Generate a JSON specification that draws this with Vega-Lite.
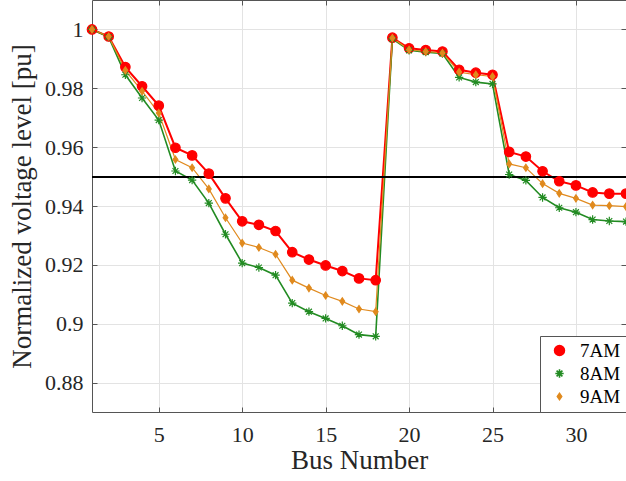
{
  "$schema": "https://vega.github.io/schema/vega-lite/v6.json",
  "width": 534,
  "height": 412,
  "autosize": {"type": "none"},
  "padding": {"left": 92, "top": 0, "right": 0, "bottom": 69},
  "background": "white",
  "config": {
    "view": {"stroke": null},
    "font": "Liberation Serif",
    "axis": {
      "labelFont": "Liberation Serif",
      "titleFont": "Liberation Serif",
      "labelFontSize": 22,
      "titleFontSize": 27,
      "titleFontWeight": "normal",
      "labelColor": "#262626",
      "titleColor": "#262626",
      "domainColor": "#555555",
      "tickColor": "#555555",
      "tickSize": -5,
      "gridColor": "#e3e3e3",
      "gridWidth": 1,
      "labelFlush": false,
      "labelOverlap": false
    },
    "legend": {"labelFont": "Liberation Serif"}
  },
  "datasets": {
    "v": [
      {"bus":1,"series":"7AM","v":1.0000},{"bus":2,"series":"7AM","v":0.9976},{"bus":3,"series":"7AM","v":0.9872},{"bus":4,"series":"7AM","v":0.9807},{"bus":5,"series":"7AM","v":0.9741},{"bus":6,"series":"7AM","v":0.9598},{"bus":7,"series":"7AM","v":0.9572},{"bus":8,"series":"7AM","v":0.9510},{"bus":9,"series":"7AM","v":0.9426},{"bus":10,"series":"7AM","v":0.9348},{"bus":11,"series":"7AM","v":0.9336},{"bus":12,"series":"7AM","v":0.9315},{"bus":13,"series":"7AM","v":0.9243},{"bus":14,"series":"7AM","v":0.9218},{"bus":15,"series":"7AM","v":0.9198},{"bus":16,"series":"7AM","v":0.9179},{"bus":17,"series":"7AM","v":0.9154},{"bus":18,"series":"7AM","v":0.9148},{"bus":19,"series":"7AM","v":0.9972},{"bus":20,"series":"7AM","v":0.9936},{"bus":21,"series":"7AM","v":0.9930},{"bus":22,"series":"7AM","v":0.9925},{"bus":23,"series":"7AM","v":0.9863},{"bus":24,"series":"7AM","v":0.9853},{"bus":25,"series":"7AM","v":0.9846},{"bus":26,"series":"7AM","v":0.9584},{"bus":27,"series":"7AM","v":0.9568},{"bus":28,"series":"7AM","v":0.9518},{"bus":29,"series":"7AM","v":0.9484},{"bus":30,"series":"7AM","v":0.9470},{"bus":31,"series":"7AM","v":0.9446},{"bus":32,"series":"7AM","v":0.9442},{"bus":33,"series":"7AM","v":0.9442},
      {"bus":1,"series":"8AM","v":1.0000},{"bus":2,"series":"8AM","v":0.9974},{"bus":3,"series":"8AM","v":0.9846},{"bus":4,"series":"8AM","v":0.9767},{"bus":5,"series":"8AM","v":0.9692},{"bus":6,"series":"8AM","v":0.9519},{"bus":7,"series":"8AM","v":0.9488},{"bus":8,"series":"8AM","v":0.9410},{"bus":9,"series":"8AM","v":0.9304},{"bus":10,"series":"8AM","v":0.9206},{"bus":11,"series":"8AM","v":0.9191},{"bus":12,"series":"8AM","v":0.9165},{"bus":13,"series":"8AM","v":0.9070},{"bus":14,"series":"8AM","v":0.9041},{"bus":15,"series":"8AM","v":0.9018},{"bus":16,"series":"8AM","v":0.8993},{"bus":17,"series":"8AM","v":0.8963},{"bus":18,"series":"8AM","v":0.8957},{"bus":19,"series":"8AM","v":0.9968},{"bus":20,"series":"8AM","v":0.9929},{"bus":21,"series":"8AM","v":0.9923},{"bus":22,"series":"8AM","v":0.9918},{"bus":23,"series":"8AM","v":0.9837},{"bus":24,"series":"8AM","v":0.9821},{"bus":25,"series":"8AM","v":0.9815},{"bus":26,"series":"8AM","v":0.9507},{"bus":27,"series":"8AM","v":0.9487},{"bus":28,"series":"8AM","v":0.9429},{"bus":29,"series":"8AM","v":0.9394},{"bus":30,"series":"8AM","v":0.9379},{"bus":31,"series":"8AM","v":0.9354},{"bus":32,"series":"8AM","v":0.9349},{"bus":33,"series":"8AM","v":0.9347},
      {"bus":1,"series":"9AM","v":1.0000},{"bus":2,"series":"9AM","v":0.9976},{"bus":3,"series":"9AM","v":0.9861},{"bus":4,"series":"9AM","v":0.9790},{"bus":5,"series":"9AM","v":0.9716},{"bus":6,"series":"9AM","v":0.9558},{"bus":7,"series":"9AM","v":0.9530},{"bus":8,"series":"9AM","v":0.9458},{"bus":9,"series":"9AM","v":0.9360},{"bus":10,"series":"9AM","v":0.9274},{"bus":11,"series":"9AM","v":0.9259},{"bus":12,"series":"9AM","v":0.9236},{"bus":13,"series":"9AM","v":0.9148},{"bus":14,"series":"9AM","v":0.9121},{"bus":15,"series":"9AM","v":0.9096},{"bus":16,"series":"9AM","v":0.9076},{"bus":17,"series":"9AM","v":0.9050},{"bus":18,"series":"9AM","v":0.9041},{"bus":19,"series":"9AM","v":0.9971},{"bus":20,"series":"9AM","v":0.9931},{"bus":21,"series":"9AM","v":0.9925},{"bus":22,"series":"9AM","v":0.9920},{"bus":23,"series":"9AM","v":0.9855},{"bus":24,"series":"9AM","v":0.9846},{"bus":25,"series":"9AM","v":0.9840},{"bus":26,"series":"9AM","v":0.9543},{"bus":27,"series":"9AM","v":0.9530},{"bus":28,"series":"9AM","v":0.9476},{"bus":29,"series":"9AM","v":0.9443},{"bus":30,"series":"9AM","v":0.9426},{"bus":31,"series":"9AM","v":0.9403},{"bus":32,"series":"9AM","v":0.9401},{"bus":33,"series":"9AM","v":0.9398}
    ]
  },
  "data": {"name": "v"},
  "resolve": {"axis": {"x": "independent", "y": "independent"}},
  "layer": [
    {
      "mark": {"type": "line", "clip": false},
      "encoding": {
        "x": {"field": "bus", "type": "quantitative", "scale": {"domain": [1, 33], "nice": false, "zero": false},
              "axis": {"orient": "bottom", "values": [5, 10, 15, 20, 25, 30], "grid": true, "title": "Bus Number", "labelPadding": 17, "titlePadding": 2}},
        "y": {"field": "v", "type": "quantitative", "scale": {"domain": [0.87, 1.01], "nice": false, "zero": false},
              "axis": {"orient": "left", "values": [0.88, 0.9, 0.92, 0.94, 0.96, 0.98, 1], "format": "~g", "grid": true, "title": "Normalized voltage level [pu]", "labelPadding": 14, "titlePadding": 8}},
        "color": {"field": "series", "type": "nominal",
                  "scale": {"domain": ["7AM", "8AM", "9AM"], "range": ["#ff0000", "#228b22", "#e08a1e"]},
                  "legend": {
                    "title": null, "orient": "bottom-right", "offset": 0,
                    "fillColor": "white", "strokeColor": "#555555", "padding": 5,
                    "labelFont": "Liberation Serif", "labelFontSize": 19, "labelColor": "#000000",
                    "symbolSize": 256, "symbolOffset": 5, "labelOffset": 11, "rowPadding": 3
                  }},
        "strokeWidth": {"field": "series", "type": "nominal", "scale": {"domain": ["7AM", "8AM", "9AM"], "range": [2, 1.2, 1.5]}, "legend": null}
      }
    },
    {
      "mark": {"type": "rule", "color": "#000000", "strokeWidth": 1.2},
      "encoding": {"y": {"datum": 0.95, "type": "quantitative", "axis": null}}
    },
    {
      "mark": {"type": "point", "filled": true, "clip": false, "opacity": 1, "strokeWidth": 1.2},
      "encoding": {
        "x": {"field": "bus", "type": "quantitative", "axis": {"orient": "top", "values": [5, 10, 15, 20, 25, 30], "labels": false, "grid": false, "title": null}},
        "y": {"field": "v", "type": "quantitative", "axis": {"orient": "right", "values": [0.88, 0.9, 0.92, 0.94, 0.96, 0.98, 1], "labels": false, "grid": false, "title": null}},
        "fill": {"field": "series", "type": "nominal", "scale": {"domain": ["7AM", "8AM", "9AM"], "range": ["#ff0000", "#228b22", "#e08a1e"]}, "legend": null},
        "stroke": {"field": "series", "type": "nominal", "scale": {"domain": ["7AM", "8AM", "9AM"], "range": ["#ff0000", "#228b22", "#e08a1e"]}, "legend": null},
        "shape": {"field": "series", "type": "nominal", "scale": {"domain": ["7AM", "8AM", "9AM"], "range": ["circle", "M-1,0L1,0M0,-1L0,1M-0.7,-0.7L0.7,0.7M-0.7,0.7L0.7,-0.7", "M0,-1L0.68,0L0,1L-0.68,0Z"]}, "legend": null},
        "size": {"field": "series", "type": "nominal", "scale": {"domain": ["7AM", "8AM", "9AM"], "range": [90, 49, 100]}, "legend": null}
      }
    }
  ]
}
